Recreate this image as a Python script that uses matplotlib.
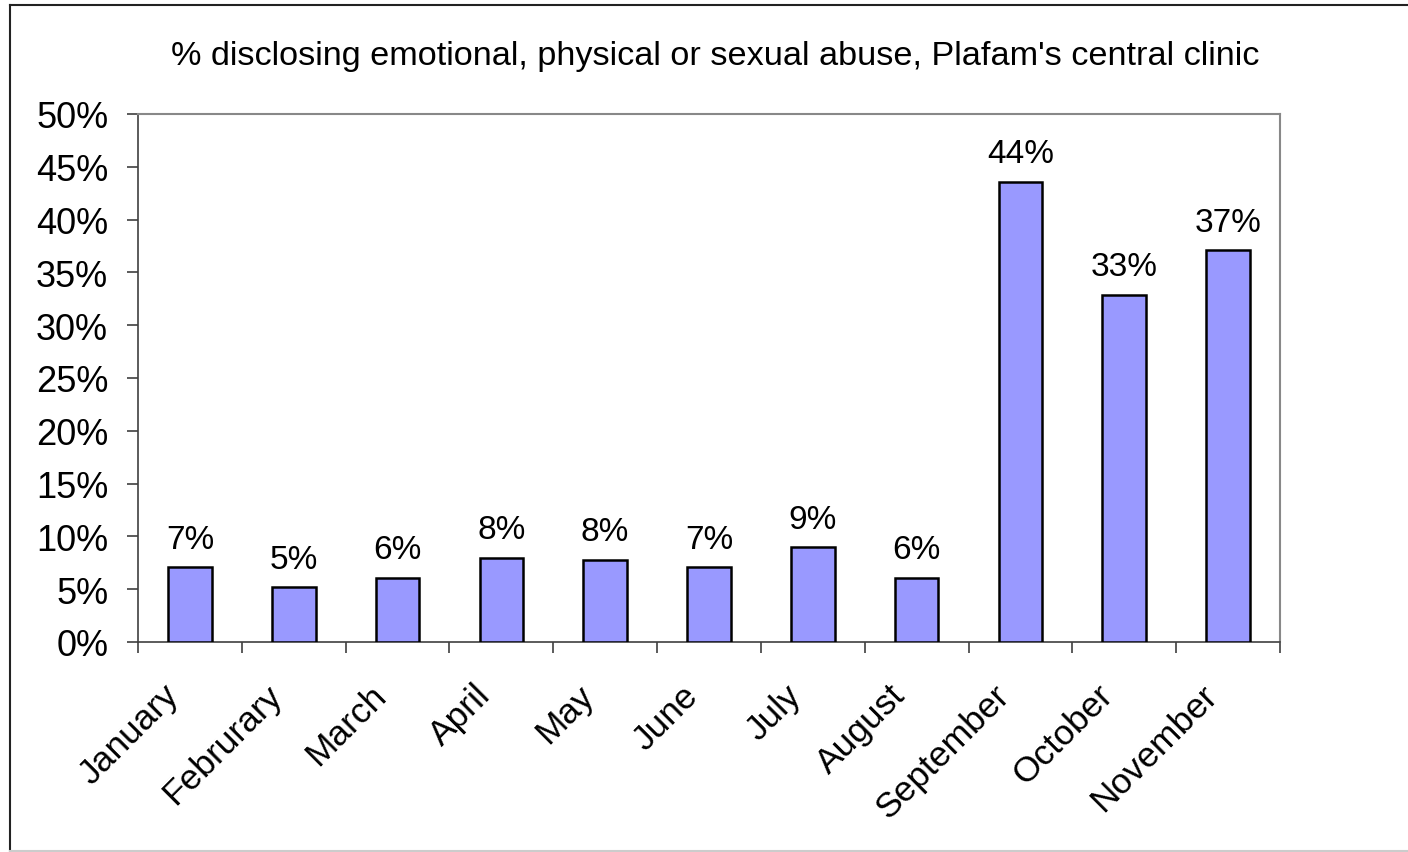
import matplotlib
matplotlib.use("Agg")
import matplotlib.pyplot as plt
from matplotlib.lines import Line2D
from matplotlib.transforms import ScaledTranslation
import numpy as np

months = ["January", "Februrary", "March", "April", "May", "June", "July",
          "August", "September", "October", "November"]
values = [7.1, 5.2, 6.1, 8.0, 7.8, 7.1, 9.0, 6.1, 43.6, 32.9, 37.1]
labels = ["7%", "5%", "6%", "8%", "8%", "7%", "9%", "6%", "44%", "33%", "37%"]
yticks = [0, 5, 10, 15, 20, 25, 30, 35, 40, 45, 50]
title = "% disclosing emotional, physical or sexual abuse, Plafam's central clinic"

plt.rcParams['font.family'] = ['Liberation Sans', 'DejaVu Sans']

W, H = 1408, 853
fig = plt.figure(figsize=(W / 100, H / 100), dpi=100)
ax = fig.add_axes([138 / W, 1 - 643 / H, (1280 - 138) / W, (643 - 115) / H])

x = np.arange(len(months))
ax.bar(x, values, width=0.42, color="#9999FF", edgecolor="black", linewidth=1.8, zorder=3)

for xi, v, lab in zip(x, values, labels):
    ax.annotate(lab, (xi, v), xytext=(0, 14), textcoords="offset points",
                ha="center", va="baseline", fontsize=24)

ax.set_xlim(-0.5, len(months) - 0.5)
ax.set_ylim(0, 50)
ax.set_yticks(yticks)
ax.set_yticklabels([f"{t}%" for t in yticks], fontsize=26)
ax.tick_params(axis="y", direction="out", length=8, width=1.2, color="#404040", pad=13.5)

ax.set_xticks(np.arange(-0.5, len(months), 1.0))
ax.set_xticklabels([])
ax.set_xticks(x, minor=True)
ax.set_xticklabels(months, minor=True, rotation=45, ha="right", va="top",
                   rotation_mode="anchor", fontsize=25.5)
ax.tick_params(axis="x", which="major", direction="out", length=8, width=1.2, color="#404040")
ax.tick_params(axis="x", which="minor", length=0, pad=18)
shift = ScaledTranslation(-0.28, -0.11, fig.dpi_scale_trans)
for lab in ax.get_xticklabels(minor=True):
    lab.set_transform(lab.get_transform() + shift)

for s in ["left", "bottom"]:
    ax.spines[s].set_color("#404040")
    ax.spines[s].set_linewidth(1.2)
for s in ["top", "right"]:
    ax.spines[s].set_color("#888888")
    ax.spines[s].set_linewidth(1.5)

fig.text(715 / W, 1 - 56 / H, title, ha="center", va="center", fontsize=24.7)

# outer chart frame
fig.add_artist(Line2D([10 / W, 10 / W], [1 - 852 / H, 1 - 6 / H], transform=fig.transFigure,
                      color="#222222", linewidth=1.5))
fig.add_artist(Line2D([10 / W, 1.0], [1 - 6 / H, 1 - 6 / H], transform=fig.transFigure,
                      color="#222222", linewidth=1.5))
fig.add_artist(Line2D([10 / W, 1.0], [1 - 852 / H, 1 - 852 / H], transform=fig.transFigure,
                      color="#cccccc", linewidth=1.5))

fig.savefig("out.png", dpi=100)
